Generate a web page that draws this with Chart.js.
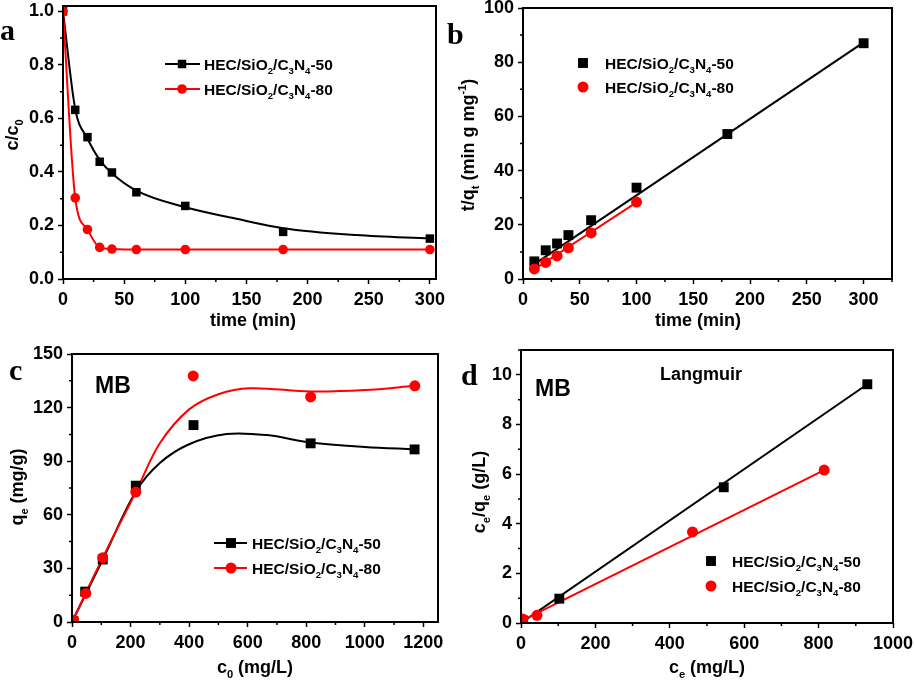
<!DOCTYPE html>
<html>
<head>
<meta charset="utf-8">
<script src="https://cdn.jsdelivr.net/npm/chart.js@4"></script>
<style>
  body { margin: 0; background: #fff; }
  #page { position: relative; width: 915px; height: 681px; overflow: hidden; }
  canvas { position: absolute; }
  .tag { position: absolute; font: bold 30px "Liberation Serif", "Times New Roman", serif; line-height: 1; color: #000; }
</style>
</head>
<body>
<div id="page">
  <canvas id="ca" width="455" height="330" style="left:0;top:0"></canvas>
  <canvas id="cb" width="460" height="330" style="left:455px;top:0"></canvas>
  <canvas id="cc" width="455" height="351" style="left:0;top:330px"></canvas>
  <canvas id="cd" width="460" height="351" style="left:455px;top:330px"></canvas>
  <div class="tag" style="left:0;top:15px">a</div>
  <div class="tag" style="left:447px;top:19px">b</div>
  <div class="tag" style="left:9px;top:355px">c</div>
  <div class="tag" style="left:461px;top:360px">d</div>
</div>
<script>
// ---- data ----
// (a) c/c0 vs time
const timeA = [0, 10, 20, 30, 40, 60, 100, 180, 300];
const ratio50 = [1.0, 0.632, 0.53, 0.438, 0.398, 0.324, 0.273, 0.176, 0.151];
const ratio80 = [1.0, 0.303, 0.185, 0.118, 0.112, 0.11, 0.11, 0.11, 0.11];
const fitTimeA50 = [0, 10, 20, 30, 40, 60, 100, 140, 180, 240, 300];
const fitRatio50 = [1.0, 0.635, 0.525, 0.445, 0.395, 0.33, 0.268, 0.227, 0.19, 0.164, 0.151];

// (b) t/qt vs time
const timeB50 = [10, 20, 30, 40, 60, 100, 180, 300];
const tq50 = [6.5, 10.6, 13.1, 16.2, 21.7, 33.7, 53.5, 87.0];
const timeB80 = [10, 20, 30, 40, 60, 100];
const tq80 = [3.7, 6.1, 8.5, 11.5, 17.0, 28.4];
const fitTimeB50 = [10, 300];
const fitTq50 = [5.5, 87.3];
const fitTimeB80 = [10, 100];
const fitTq80 = [3.6, 28.3];

// (c) qe vs c0
const c0_50 = [5, 45, 105, 218, 415, 815, 1170];
const qe50 = [0.5, 17, 35, 76.3, 110.2, 100, 96.6];
const c0_80 = [5, 47, 105, 218, 414, 815, 1171];
const qe80 = [1, 16, 36, 72.7, 137.7, 126, 132.2];
const fitC0_50 = [0, 105, 218, 300, 400, 528, 665, 815, 1000, 1170];
const fitQe50 = [0, 35, 73, 89, 99.5, 105.2, 104.6, 100.5, 98, 96.6];
const fitC0_80 = [0, 105, 218, 300, 400, 500, 607, 815, 1000, 1170];
const fitQe80 = [0, 36, 72.7, 100, 119, 127.5, 130.8, 129, 129.8, 132.2];

// (d) Langmuir ce/qe vs ce
const ce50 = [5, 103, 545, 931];
const cq50 = [0.1, 0.98, 5.47, 9.62];
const ce80 = [5, 43, 461, 815];
const cq80 = [0.16, 0.31, 3.67, 6.16];
const fitCe50 = [0, 931];
const fitCq50 = [0, 9.62];
const fitCe80 = [0, 815];
const fitCq80 = [0.08, 6.16];

const name50 = 'HEC/SiO_2/C_3N_4-50';
const name80 = 'HEC/SiO_2/C_3N_4-80';

const FONT = '"Liberation Sans", Arial, sans-serif';
const RED = '#ff0000';

const pts = (xs, ys) => xs.map((x, i) => ({ x: x, y: ys[i] }));

// draws text with _x / _{..} subscripts and ^{..} superscripts
function rich(ctx, s, x, y, size, align) {
  const parts = [];
  let i = 0;
  while (i < s.length) {
    const c = s[i];
    if (c === '_' || c === '^') {
      let t;
      if (s[i + 1] === '{') { const j = s.indexOf('}', i); t = s.slice(i + 2, j); i = j + 1; }
      else { t = s[i + 1]; i += 2; }
      parts.push({ t: t, k: c });
    } else {
      let j = i;
      while (j < s.length && s[j] !== '_' && s[j] !== '^') j++;
      parts.push({ t: s.slice(i, j), k: '' });
      i = j;
    }
  }
  let total = 0;
  parts.forEach(p => {
    p.size = p.k ? size * 0.62 : size;
    ctx.font = 'bold ' + p.size + 'px ' + FONT;
    p.w = ctx.measureText(p.t).width;
    total += p.w;
  });
  let cx = align === 'center' ? x - total / 2 : x;
  ctx.textAlign = 'left';
  ctx.textBaseline = 'alphabetic';
  parts.forEach(p => {
    ctx.font = 'bold ' + p.size + 'px ' + FONT;
    const dy = p.k === '_' ? size * 0.28 : p.k === '^' ? -size * 0.42 : 0;
    ctx.fillText(p.t, cx, y + dy);
    cx += p.w;
  });
}

function marker(ctx, kind, x, y, r, color) {
  ctx.fillStyle = color;
  ctx.beginPath();
  if (kind === 'rect') {
    const h = r * Math.SQRT1_2;
    ctx.rect(x - h, y - h, 2 * h, 2 * h);
  } else {
    ctx.arc(x, y, r, 0, Math.PI * 2);
  }
  ctx.fill();
}

function decor(cfg) {
  return {
    id: 'decor',
    afterDraw(chart) {
      const ctx = chart.ctx, a = chart.chartArea;
      const xs = chart.scales.x, ys = chart.scales.y;
      ctx.save();
      ctx.strokeStyle = '#000';
      // minor ticks
      ctx.lineWidth = 1.5;
      ctx.beginPath();
      for (let v = xs.min; v <= xs.max + 1e-9; v += cfg.minorX) {
        if (Math.abs(v / cfg.stepX - Math.round(v / cfg.stepX)) < 1e-6) continue;
        const px = xs.getPixelForValue(v);
        ctx.moveTo(px, a.bottom); ctx.lineTo(px, a.bottom + 3);
      }
      for (let v = ys.min; v <= ys.max + 1e-9; v += cfg.minorY) {
        if (Math.abs(v / cfg.stepY - Math.round(v / cfg.stepY)) < 1e-6) continue;
        const py = ys.getPixelForValue(v);
        ctx.moveTo(a.left, py); ctx.lineTo(a.left - 3, py);
      }
      ctx.stroke();
      // frame
      ctx.lineWidth = 2;
      ctx.strokeRect(a.left, a.top, a.right - a.left, a.bottom - a.top);
      // axis titles
      ctx.fillStyle = '#000';
      rich(ctx, cfg.xTitle[0], cfg.xTitle[1], cfg.xTitle[2] + 6, 18, 'center');
      ctx.save();
      ctx.translate(cfg.yTitle[1], cfg.yTitle[2]);
      ctx.rotate(-Math.PI / 2);
      rich(ctx, cfg.yTitle[0], 0, 6, 18, 'center');
      ctx.restore();
      // legend
      cfg.legend.forEach(it => {
        if (it.line) {
          ctx.strokeStyle = it.color;
          ctx.lineWidth = 2;
          ctx.beginPath();
          ctx.moveTo(it.line[0], it.y); ctx.lineTo(it.line[1], it.y);
          ctx.stroke();
        }
        marker(ctx, it.kind, it.mx, it.y, it.r, it.color);
        ctx.fillStyle = '#000';
        rich(ctx, it.text, it.tx, it.y + 5.5, 15.5, 'left');
      });
      // free texts
      (cfg.texts || []).forEach(t => {
        ctx.fillStyle = '#000';
        ctx.font = 'bold ' + t.size + 'px ' + FONT;
        ctx.textAlign = 'left';
        ctx.textBaseline = 'alphabetic';
        ctx.fillText(t.text, t.x, t.y);
      });
      ctx.restore();
    }
  };
}

function axis(min, max, step, yWidth, xHeight, isY, fmt) {
  return {
    type: 'linear',
    min: min,
    max: max,
    ticks: {
      stepSize: step,
      includeBounds: false,
      autoSkip: false,
      maxRotation: 0,
      color: '#000',
      padding: isY ? 4 : 5,
      font: { family: FONT, size: 18, weight: 'bold' },
      callback: fmt || (v => String(v))
    },
    grid: { drawOnChartArea: false, drawTicks: true, tickLength: 5, tickWidth: 1.5, tickColor: '#000' },
    border: { display: false },
    title: { display: false },
    afterFit: s => {
      if (isY) { s.width = yWidth; s.paddingTop = 0; s.paddingBottom = 0; }
      else { s.height = xHeight; s.paddingLeft = 0; s.paddingRight = 0; }
    }
  };
}

function scatterSet(data, kind, r, color, order) {
  return {
    data: data, showLine: false, pointStyle: kind, pointRadius: r,
    pointBackgroundColor: color, pointBorderColor: color, pointBorderWidth: 0, order: order
  };
}
// curve: false = straight, 'monotone' or a tension number
function lineSet(data, color, curve, order) {
  return {
    data: data, showLine: true, pointRadius: 0, borderColor: color, borderWidth: 2,
    cubicInterpolationMode: curve === 'monotone' ? 'monotone' : 'default',
    tension: typeof curve === 'number' ? curve : 0, order: order
  };
}

function makeChart(id, cfg, datasets) {
  return new Chart(document.getElementById(id), {
    type: 'scatter',
    data: { datasets: datasets },
    options: {
      responsive: false,
      animation: false,
      layout: { padding: cfg.pad },
      plugins: { legend: { display: false }, tooltip: { enabled: false } },
      scales: {
        x: axis(cfg.x[0], cfg.x[1], cfg.stepX, 0, cfg.xh, false),
        y: axis(cfg.y[0], cfg.y[1], cfg.stepY, cfg.yw, 0, true, cfg.yfmt)
      }
    },
    plugins: [decor(cfg)]
  });
}

// (a)
makeChart('ca', {
  pad: { left: 0, top: 6, right: 19, bottom: 0 }, yw: 63, xh: 51,
  x: [0, 305], stepX: 50, minorX: 25, y: [0, 1.02], stepY: 0.2, minorY: 0.1,
  yfmt: v => v.toFixed(1),
  xTitle: ['time (min)', 253, 320], yTitle: ['c/c_0', 12, 135],
  legend: [
    { kind: 'rect', r: 6, color: '#000', line: [165, 200], mx: 182, y: 64, tx: 204, text: name50 },
    { kind: 'circle', r: 4.8, color: RED, line: [165, 200], mx: 182, y: 89, tx: 204, text: name80 }
  ]
}, [
  scatterSet(pts(timeA, ratio80), 'circle', 4.8, RED, 0),
  scatterSet(pts(timeA, ratio50), 'rect', 6, '#000', 1),
  lineSet(pts(timeA, ratio80), RED, 'monotone', 2),
  lineSet(pts(fitTimeA50, fitRatio50), '#000', 'monotone', 3)
]);

// (b)
makeChart('cb', {
  pad: { left: 0, top: 8, right: 23, bottom: 0 }, yw: 68, xh: 51,
  x: [0, 325], stepX: 50, minorX: 25, y: [0, 100], stepY: 20, minorY: 10,
  xTitle: ['time (min)', 243, 320], yTitle: ['t/q_t (min g mg^{-1})', 13, 145],
  legend: [
    { kind: 'rect', r: 7, color: '#000', mx: 128, y: 63, tx: 150, text: name50 },
    { kind: 'circle', r: 5.5, color: RED, mx: 128, y: 87, tx: 150, text: name80 }
  ]
}, [
  scatterSet(pts(timeB80, tq80), 'circle', 5.5, RED, 0),
  scatterSet(pts(timeB50, tq50), 'rect', 7, '#000', 1),
  lineSet(pts(fitTimeB80, fitTq80), RED, false, 2),
  lineSet(pts(fitTimeB50, fitTq50), '#000', false, 3)
]);

// (c)
makeChart('cc', {
  pad: { left: 0, top: 24, right: 17, bottom: 0 }, yw: 72, xh: 59,
  x: [0, 1250], stepX: 200, minorX: 100, y: [0, 150], stepY: 30, minorY: 15,
  xTitle: ['c_0 (mg/L)', 255, 337], yTitle: ['q_e (mg/g)', 17, 157],
  legend: [
    { kind: 'rect', r: 7, color: '#000', line: [214, 247], mx: 231, y: 213, tx: 252, text: name50 },
    { kind: 'circle', r: 5.5, color: RED, line: [214, 247], mx: 231, y: 238, tx: 252, text: name80 }
  ],
  texts: [{ text: 'MB', x: 95, y: 63, size: 23 }]
}, [
  scatterSet(pts(c0_80, qe80), 'circle', 5.5, RED, 0),
  scatterSet(pts(c0_50, qe50), 'rect', 7, '#000', 1),
  lineSet(pts(fitC0_80, fitQe80), RED, 0.35, 2),
  lineSet(pts(fitC0_50, fitQe50), '#000', 0.35, 3)
]);

// (d)
makeChart('cd', {
  pad: { left: 0, top: 20, right: 22, bottom: 0 }, yw: 66, xh: 58,
  x: [0, 1000], stepX: 200, minorX: 100, y: [0, 11], stepY: 2, minorY: 1,
  xTitle: ['c_e (mg/L)', 252, 337], yTitle: ['c_e/q_e (g/L)', 24, 162],
  legend: [
    { kind: 'rect', r: 7, color: '#000', mx: 256, y: 231, tx: 277, text: name50 },
    { kind: 'circle', r: 5.5, color: RED, mx: 256, y: 256, tx: 277, text: name80 }
  ],
  texts: [{ text: 'MB', x: 80, y: 66, size: 23 }, { text: 'Langmuir', x: 205, y: 50, size: 18 }]
}, [
  scatterSet(pts(ce80, cq80), 'circle', 5.5, RED, 0),
  scatterSet(pts(ce50, cq50), 'rect', 7, '#000', 1),
  lineSet(pts(fitCe80, fitCq80), RED, false, 2),
  lineSet(pts(fitCe50, fitCq50), '#000', false, 3)
]);
</script>
</body>
</html>
